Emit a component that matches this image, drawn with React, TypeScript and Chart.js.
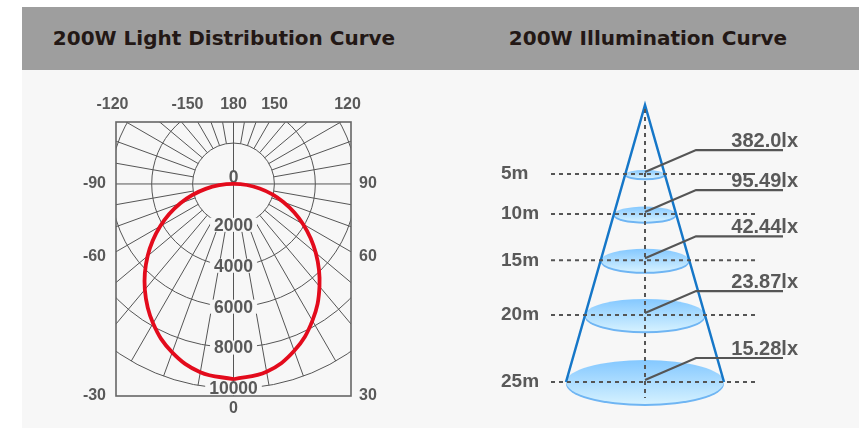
import React, { useEffect, useRef } from 'react';
import { Chart, registerables, LinearScale } from 'chart.js';

// ---------------- data ----------------
// Light distribution (C0-C180 plane), angle from nadir in degrees
const C_ANGLES = [-90, -80, -70, -60, -50, -40, -30, -20, -10, 0, 10, 20, 30, 40, 50, 60, 70, 80, 90];
// Luminous intensity in cd
const INTENSITY_CD = [0, 1383, 2765, 4139, 5480, 6744, 7867, 8764, 9347, 9550, 9324, 8683, 7718, 6541, 5255, 3931, 2607, 1298, 0];
const RING_VALUES = [0, 2000, 4000, 6000, 8000, 10000];
const TOP_LABELS = ['-120', '-150', '180', '150', '120'];
const LEFT_LABELS = ['-90', '-60', '-30'];
const RIGHT_LABELS = ['90', '60', '30'];
const BOTTOM_LABEL = '0';

// Illumination
const DISTANCES_M = [5, 10, 15, 20, 25];
const ILLUMINANCE_LX = [382.0, 95.49, 42.44, 23.87, 15.28];

const TITLE_LEFT = '200W Light Distribution Curve';
const TITLE_RIGHT = '200W Illumination Curve';

// ---------------- perspective scale ----------------
const PERSPECTIVE_DEPTH = 45;
const LAMP_POSITION = -5.35;

class PerspectiveScale extends LinearScale {
  static id = 'perspective';
  static defaults = {};
  warp(v: number) {
    const k = PERSPECTIVE_DEPTH;
    const a = Math.log(k - (this as any).min);
    const b = Math.log(k - (this as any).max);
    return (a - Math.log(k - v)) / (a - b);
  }
  getPixelForValue(v: any) {
    if (v === null || v === undefined || isNaN(v)) return NaN;
    const s: any = this;
    return s.top + (s.bottom - s.top) * this.warp(v);
  }
  getValueForPixel(p: number) {
    const s: any = this;
    const k = PERSPECTIVE_DEPTH;
    const a = Math.log(k - s.min);
    const b = Math.log(k - s.max);
    const t = (p - s.top) / (s.bottom - s.top);
    return k - Math.exp(a - t * (a - b));
  }
}

Chart.register(...registerables, PerspectiveScale as any);

const GREY_TEXT = '#595959';
const FONT = '"Liberation Sans", Arial, sans-serif';

// ---------------- left chart ----------------
function curvePoints() {
  const i0 = C_ANGLES.indexOf(0);
  const order: number[] = [];
  for (let i = i0; i < C_ANGLES.length; i++) order.push(i);
  for (let i = 1; i <= i0; i++) order.push(i);
  return order.map((i) => {
    const t = (C_ANGLES[i] * Math.PI) / 180;
    return { x: INTENSITY_CD[i] * Math.sin(t), y: -INTENSITY_CD[i] * Math.cos(t) };
  });
}

const polarGrid = {
  id: 'polarGrid',
  beforeDatasetsDraw(chart: any) {
    const { ctx, chartArea: a } = chart;
    const x = chart.scales.x, y = chart.scales.y;
    const cx = x.getPixelForValue(0), cy = y.getPixelForValue(0);
    const k = (x.getPixelForValue(1000) - cx) / 1000;
    ctx.save();
    ctx.beginPath();
    ctx.rect(a.left, a.top, a.right - a.left, a.bottom - a.top);
    ctx.clip();
    ctx.strokeStyle = '#555';
    ctx.lineWidth = 1;
    ctx.beginPath();
    for (const v of RING_VALUES) {
      if (v <= 0) continue;
      ctx.moveTo(cx + v * k, cy);
      ctx.arc(cx, cy, v * k, 0, Math.PI * 2);
    }
    const rIn = RING_VALUES[1] * k;
    const rOut = RING_VALUES[RING_VALUES.length - 1] * k;
    for (let deg = 0; deg < 360; deg += 10) {
      if (deg % 90 === 0) continue;
      const t = (deg * Math.PI) / 180;
      ctx.moveTo(cx + rIn * Math.sin(t), cy + rIn * Math.cos(t));
      ctx.lineTo(cx + rOut * Math.sin(t), cy + rOut * Math.cos(t));
    }
    ctx.moveTo(a.left, cy);
    ctx.lineTo(a.right, cy);
    ctx.moveTo(cx, a.top);
    ctx.lineTo(cx, a.bottom);
    ctx.stroke();
    ctx.restore();

    // ring labels
    ctx.save();
    ctx.font = `bold 17.5px ${FONT}`;
    ctx.textAlign = 'center';
    ctx.textBaseline = 'middle';
    for (const v of RING_VALUES) {
      const label = String(v);
      const ly = v === 0 ? cy - 6.5 : cy + v * k;
      const w = ctx.measureText(label).width + 8;
      ctx.fillStyle = '#f7f7f7';
      if (v !== 0) ctx.fillRect(cx - w / 2, ly - 7, w, 14);
      else ctx.fillRect(cx - w / 2 + 2, ly - 6, w - 4, 12);
      ctx.fillStyle = GREY_TEXT;
      ctx.fillText(label, cx, ly + 1);
    }
    ctx.restore();
  },
  afterDraw(chart: any) {
    const { ctx, chartArea: a } = chart;
    const cx = chart.scales.x.getPixelForValue(0), cy = chart.scales.y.getPixelForValue(0);
    ctx.save();
    ctx.strokeStyle = '#666';
    ctx.lineWidth = 1.6;
    ctx.strokeRect(a.left, a.top, a.right - a.left, a.bottom - a.top);
    ctx.fillStyle = GREY_TEXT;
    ctx.font = `bold 16px ${FONT}`;
    ctx.textBaseline = 'middle';
    ctx.textAlign = 'center';
    const topOffsets = [-121, -46, 0, 41, 114];
    TOP_LABELS.forEach((l, i) => ctx.fillText(l, cx + topOffsets[i], a.top - 17));
    const sideOffsets = [0, 73, a.bottom - cy];
    ctx.textAlign = 'right';
    LEFT_LABELS.forEach((l, i) => ctx.fillText(l, a.left - 10, cy + sideOffsets[i]));
    ctx.textAlign = 'left';
    RIGHT_LABELS.forEach((l, i) => ctx.fillText(l, a.right + 8, cy + sideOffsets[i]));
    ctx.textAlign = 'center';
    ctx.fillText(BOTTOM_LABEL, cx, a.bottom + 13);
    ctx.restore();
  },
};

// ---------------- right chart ----------------
const cone = {
  id: 'cone',
  beforeDatasetsDraw(chart: any) {
    const { ctx } = chart;
    const x = chart.scales.x, y = chart.scales.y;
    const cx = x.getPixelForValue(0);
    const apex = y.getPixelForValue(LAMP_POSITION);
    const base = y.getPixelForValue(DISTANCES_M[DISTANCES_M.length - 1]);
    const baseR = x.getPixelForValue(1) - cx;
    ctx.save();
    DISTANCES_M.forEach((d) => {
      const py = y.getPixelForValue(d);
      const rx = ((py - apex) / (base - apex)) * baseR;
      const ry = 0.3 * rx - 1.8;
      ctx.fillStyle = '#6fb5f3';
      ctx.beginPath();
      ctx.ellipse(cx, py + 2, rx, ry, 0, 0, Math.PI * 2);
      ctx.fill();
      const g = ctx.createLinearGradient(0, py - ry, 0, py + ry);
      g.addColorStop(0, '#84c8ff');
      g.addColorStop(1, '#d4f1ff');
      ctx.fillStyle = g;
      ctx.beginPath();
      ctx.ellipse(cx, py, rx, ry, 0, 0, Math.PI * 2);
      ctx.fill();
    });
    ctx.restore();
  },
  afterDatasetsDraw(chart: any) {
    const { ctx } = chart;
    const x = chart.scales.x, y = chart.scales.y;
    const cx = x.getPixelForValue(0);
    const apex = y.getPixelForValue(LAMP_POSITION);
    const base = y.getPixelForValue(DISTANCES_M[DISTANCES_M.length - 1]);
    ctx.save();
    ctx.strokeStyle = '#555';
    ctx.lineWidth = 2;
    ctx.setLineDash([4, 4]);
    ctx.beginPath();
    ctx.moveTo(cx, apex + 4);
    ctx.lineTo(cx, base + 16);
    DISTANCES_M.forEach((d) => {
      const py = y.getPixelForValue(d);
      ctx.moveTo(cx - 94, py);
      ctx.lineTo(cx + 112, py);
    });
    ctx.stroke();
    ctx.setLineDash([]);
    ctx.lineWidth = 2.2;
    ctx.beginPath();
    DISTANCES_M.forEach((d) => {
      const py = y.getPixelForValue(d);
      ctx.moveTo(cx, py - 2);
      ctx.lineTo(cx + 51, py - 24);
      ctx.lineTo(cx + 138, py - 24);
    });
    ctx.stroke();
    ctx.fillStyle = GREY_TEXT;
    DISTANCES_M.forEach((d, i) => {
      const py = y.getPixelForValue(d);
      ctx.font = `bold 19px ${FONT}`;
      ctx.textAlign = 'left';
      ctx.textBaseline = 'middle';
      ctx.fillText(`${d}m`, cx - 144, py);
      ctx.font = `bold 20px ${FONT}`;
      ctx.textAlign = 'right';
      ctx.textBaseline = 'alphabetic';
      ctx.fillText(`${ILLUMINANCE_LX[i].toPrecision(4)}lx`, cx + 153, py - 27);
    });
    ctx.restore();
  },
};

const titleStyle = (center: number): React.CSSProperties => ({
  position: 'absolute',
  left: center - 250,
  width: 500,
  top: 7,
  height: 63,
  lineHeight: '63px',
  textAlign: 'center',
  fontFamily: '"DejaVu Sans", sans-serif',
  fontWeight: 700,
  fontSize: 20,
  color: '#231815',
  whiteSpace: 'nowrap',
});

export default function App() {
  const leftRef = useRef<HTMLCanvasElement>(null);
  const rightRef = useRef<HTMLCanvasElement>(null);
  useEffect(() => {
    const left = new Chart(leftRef.current as HTMLCanvasElement, {
      type: 'scatter',
      data: {
        datasets: [
          {
            data: curvePoints(),
            showLine: true,
            borderColor: '#e30b1c',
            borderWidth: 3.8,
            pointRadius: 0,
            tension: 0.4,
            fill: false,
          } as any,
        ],
      },
      options: {
        animation: false,
        responsive: false,
        events: [],
        layout: { padding: { left: 94, right: 79, top: 52, bottom: 32 } },
        plugins: { legend: { display: false }, tooltip: { enabled: false } },
        scales: {
          x: { type: 'linear', min: -5745, max: 5745, display: false },
          y: { type: 'linear', min: -10370, max: 3030, display: false },
        },
      },
      plugins: [polarGrid],
    });
    const right = new Chart(rightRef.current as HTMLCanvasElement, {
      type: 'scatter',
      data: {
        datasets: [
          {
            data: [
              { x: -1, y: DISTANCES_M[DISTANCES_M.length - 1] },
              { x: 0, y: LAMP_POSITION },
              { x: 1, y: DISTANCES_M[DISTANCES_M.length - 1] },
            ],
            showLine: true,
            borderColor: '#1677c8',
            borderWidth: 2.5,
            pointRadius: 0,
            tension: 0,
            clip: false,
          } as any,
        ],
      },
      options: {
        animation: false,
        responsive: false,
        events: [],
        layout: { padding: { left: 136, right: 135, top: 35, bottom: 46 } },
        plugins: { legend: { display: false }, tooltip: { enabled: false } },
        scales: {
          x: { type: 'linear', min: -1, max: 1, display: false },
          y: { type: 'perspective' as any, min: LAMP_POSITION, max: DISTANCES_M[DISTANCES_M.length - 1], display: false },
        },
      },
      plugins: [cone],
    });
    return () => {
      left.destroy();
      right.destroy();
    };
  }, []);

  return (
    <div style={{ position: 'absolute', left: 0, top: 0, width: 859, height: 428, background: '#fff', overflow: 'hidden' }}>
      <div style={{ position: 'absolute', left: 22, top: 7, width: 837, height: 63, background: '#9e9e9e' }} />
      <div style={{ position: 'absolute', left: 22, top: 70, width: 837, height: 358, background: '#f7f7f7' }} />
      <div style={titleStyle(224)}>{TITLE_LEFT}</div>
      <div style={titleStyle(648)}>{TITLE_RIGHT}</div>
      <canvas ref={leftRef} width={408} height={358} style={{ position: 'absolute', left: 22, top: 70, width: 408, height: 358 }} />
      <canvas ref={rightRef} width={429} height={358} style={{ position: 'absolute', left: 430, top: 70, width: 429, height: 358 }} />
    </div>
  );
}
